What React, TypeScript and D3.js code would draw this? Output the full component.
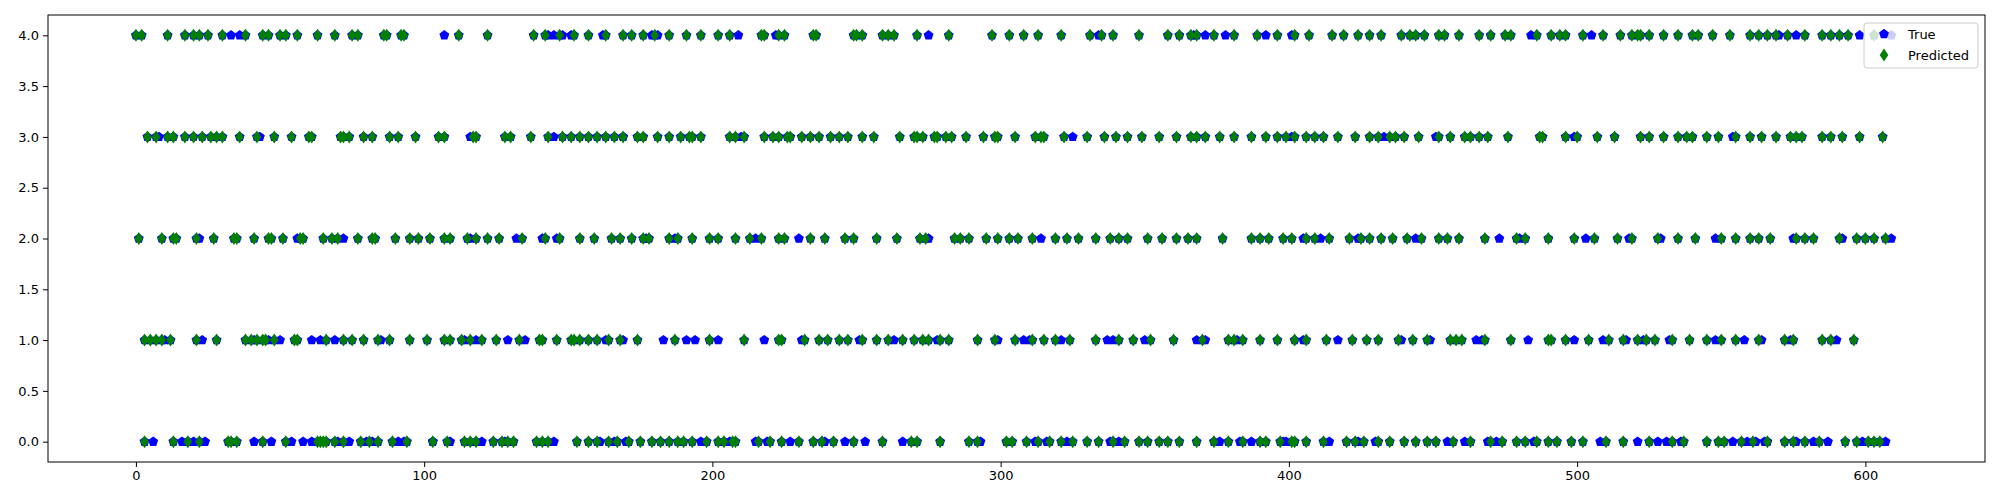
import * as d3 from 'd3';
import React, { useEffect, useRef } from 'react';

// Predicted class per sample index (green diamonds), one list per class
const pred4 = [0,2,11,17,20,22,25,30,38,44,46,50,52,56,63,69,75,77,86,87,92,93,112,122,138,142,147,152,157,163,169,172,176,180,185,191,196,202,206,217,218,223,225,235,236,249,250,252,259,261,263,271,282,297,303,308,313,321,331,335,339,348,358,362,366,368,374,381,389,396,402,407,415,419,424,428,432,439,442,444,447,452,454,459,466,470,475,477,486,491,494,496,502,509,515,519,521,522,525,530,535,540,542,547,553,560,563,566,569,573,579,585,588,591,594,603];
const pred3 = [4,7,11,13,17,20,23,26,28,30,36,42,48,54,60,61,71,72,74,79,82,88,91,97,105,107,117,118,128,130,137,143,148,151,154,157,160,163,166,169,174,176,181,185,189,192,193,196,206,208,211,218,221,223,226,227,231,234,237,241,244,247,252,256,265,270,271,273,277,278,281,283,288,294,298,299,305,312,314,315,322,330,336,340,344,349,355,361,366,368,371,376,381,387,392,396,399,402,406,409,412,417,423,428,431,435,437,440,445,452,456,461,463,466,469,476,487,488,496,500,507,513,522,525,530,535,538,540,545,549,555,560,564,569,574,576,578,585,588,592,598,606];
const pred2 = [1,9,13,14,21,27,34,35,41,46,47,51,57,58,65,68,70,77,82,83,90,95,98,102,107,109,115,118,122,126,134,142,147,154,159,165,168,172,176,178,185,188,193,199,202,208,213,217,223,225,234,239,246,249,257,264,272,274,284,286,289,295,299,303,306,311,319,323,327,333,338,341,344,351,356,361,365,368,377,387,390,393,398,401,406,409,414,421,425,428,432,436,441,446,452,455,459,468,479,482,490,499,506,514,519,528,535,541,550,555,560,563,567,576,579,582,591,597,600,603,607];
const pred1 = [3,5,7,9,12,21,28,38,40,42,44,45,48,55,56,66,72,75,79,84,88,95,101,107,109,113,116,120,125,133,140,141,146,151,152,154,157,160,164,168,174,187,199,211,223,224,232,237,240,244,247,252,257,261,266,270,273,275,279,282,292,298,305,311,315,319,324,333,341,346,352,360,370,379,381,384,390,396,402,406,413,422,427,431,438,443,448,456,458,460,468,477,490,491,496,504,511,516,521,524,527,533,539,545,550,555,563,572,575,585,588,596];
const pred0 = [3,13,18,22,32,33,35,44,52,63,64,65,66,69,72,78,81,84,89,94,103,108,114,116,118,124,127,129,131,139,141,143,153,157,160,164,167,171,175,179,182,185,188,190,193,198,202,204,207,208,216,220,224,230,235,238,242,249,259,269,271,279,289,292,302,304,309,313,317,321,325,330,334,339,343,348,351,355,358,362,368,374,379,384,390,392,397,401,402,406,412,420,423,426,431,435,440,444,448,451,457,463,470,474,479,482,486,490,493,498,502,510,516,525,533,537,545,549,551,557,561,566,572,575,579,584,593,597,601,603,605];

// True class where it differs from the prediction (visible blue pentagons)
const true4 = [33,36,107,143,145,148,151,162,179,181,209,222,275,334,367,371,378,392,401,484,505,570,576,598,609];
const true3 = [8,43,116,145,169,210,325,401,433,451,499,554];
const true2 = [22,56,72,116,132,141,146,177,187,215,230,275,314,405,411,424,444,473,480,503,518,529,548,575,592,609];
const true1 = [10,23,41,46,50,61,64,69,85,114,118,129,135,163,169,183,191,194,202,218,231,251,263,278,299,308,310,321,337,339,350,368,371,382,405,417,439,449,465,467,483,499,509,517,523,532,548,558,564,574,590];
const true0 = [6,16,20,24,41,47,54,58,61,70,74,80,82,91,93,103,109,120,128,145,161,166,170,196,206,215,219,227,239,246,253,266,293,312,316,323,338,341,376,383,387,398,399,414,424,430,455,461,469,472,485,508,521,528,531,536,554,559,562,565,576,582,587,599,607];

const yTicks = [0, 0.5, 1, 1.5, 2, 2.5, 3, 3.5, 4];
const xTicks = [0, 100, 200, 300, 400, 500, 600];

const predRows = [pred0, pred1, pred2, pred3, pred4];
const trueRows = [true0, true1, true2, true3, true4];

type Pt = { i: number; c: number };

const pentagon = (r: number) => {
  const pts = d3.range(5).map(k => {
    const a = -Math.PI / 2 + (k * 2 * Math.PI) / 5;
    return [r * Math.cos(a), r * Math.sin(a)];
  });
  return 'M' + pts.map(p => p.join(',')).join('L') + 'Z';
};
const thinDiamond = (h: number, w: number) => `M0,${-h}L${w},0L0,${h}L${-w},0Z`;

const App: React.FC = () => {
  const svgRef = useRef<SVGSVGElement>(null);
  const width = 2000;
  const height = 500;

  useEffect(() => {
    if (!svgRef.current) return;
    const svg = d3.select(svgRef.current);
    svg.selectAll('*').remove();

    const margin = { top: 15, right: 15, bottom: 38, left: 48 };
    const x = d3.scaleLinear().domain([-30.5, 641.5]).range([margin.left, width - margin.right]);
    const y = d3.scaleLinear().domain([-0.2, 4.2]).range([height - margin.bottom, margin.top]);

    const predPts: Pt[] = predRows.flatMap((row, c) => row.map(i => ({ i, c })));
    // where not listed separately, the true class equals the prediction
    const truePts: Pt[] = [...predPts, ...trueRows.flatMap((row, c) => row.map(i => ({ i, c })))];

    const font = 'DejaVu Sans, sans-serif';

    svg.append('g')
      .selectAll('path')
      .data(truePts)
      .join('path')
      .attr('d', pentagon(5.2))
      .attr('transform', d => `translate(${x(d.i)},${y(d.c)})`)
      .attr('fill', '#0000ff');

    svg.append('g')
      .selectAll('path')
      .data(predPts)
      .join('path')
      .attr('d', thinDiamond(6.5, 4.3))
      .attr('transform', d => `translate(${x(d.i)},${y(d.c)})`)
      .attr('fill', '#008000');

    const xAxis = svg.append('g')
      .attr('transform', `translate(0,${height - margin.bottom})`)
      .call(d3.axisBottom(x).tickValues(xTicks).tickFormat(d3.format('d')).tickSize(5).tickPadding(4));
    const yAxis = svg.append('g')
      .attr('transform', `translate(${margin.left},0)`)
      .call(d3.axisLeft(y).tickValues(yTicks).tickFormat(d3.format('.1f')).tickSize(5).tickPadding(4));
    [xAxis, yAxis].forEach(a => {
      a.select('.domain').remove();
      a.selectAll('text').style('font-size', '13px').style('font-family', font).attr('fill', '#000');
    });

    svg.append('rect')
      .attr('x', margin.left).attr('y', margin.top)
      .attr('width', width - margin.left - margin.right)
      .attr('height', height - margin.top - margin.bottom)
      .attr('fill', 'none').attr('stroke', '#000').attr('stroke-width', 1);

    // legend
    const lg = svg.append('g').attr('transform', 'translate(1864,23)');
    lg.append('rect').attr('width', 114).attr('height', 45).attr('rx', 3)
      .attr('fill', 'rgba(255,255,255,0.8)').attr('stroke', '#cccccc');
    lg.append('path').attr('d', pentagon(5.2)).attr('transform', 'translate(20,11)').attr('fill', '#0000ff');
    lg.append('path').attr('d', thinDiamond(6.5, 4.3)).attr('transform', 'translate(20,32)').attr('fill', '#008000');
    [['True', 11], ['Predicted', 32]].forEach(([t, yy]) => {
      lg.append('text').attr('x', 44).attr('y', yy as number).attr('dy', '0.35em')
        .style('font-size', '13px').style('font-family', font).text(t as string);
    });
  }, []);

  return (
    <svg ref={svgRef} width={width} height={height}
      style={{ position: 'absolute', top: 0, left: 0, background: '#fff' }} />
  );
};

export default App;
